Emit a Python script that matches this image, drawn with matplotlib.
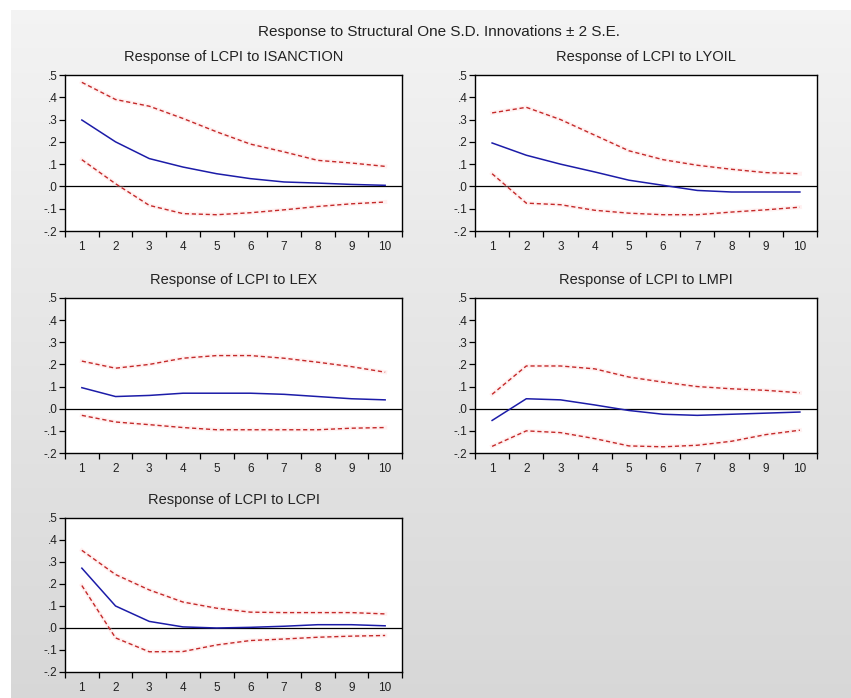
import numpy as np
import matplotlib
matplotlib.use("Agg")
import matplotlib.pyplot as plt

plt.rcParams['font.family'] = ['Liberation Sans', 'DejaVu Sans']

periods = [1, 2, 3, 4, 5, 6, 7, 8, 9, 10]
titles = ["Response of LCPI to ISANCTION", "Response of LCPI to LYOIL",
          "Response of LCPI to LEX", "Response of LCPI to LMPI",
          "Response of LCPI to LCPI"]

# impulse responses (mean, upper band, lower band)
isanction_mid = [0.298, 0.20, 0.125, 0.087, 0.057, 0.035, 0.02, 0.015, 0.009, 0.005]
isanction_hi = [0.467, 0.39, 0.36, 0.305, 0.245, 0.19, 0.155, 0.117, 0.105, 0.09]
isanction_lo = [0.12, 0.012, -0.085, -0.122, -0.127, -0.118, -0.105, -0.09, -0.078, -0.07]

lyoil_mid = [0.195, 0.14, 0.10, 0.065, 0.028, 0.005, -0.018, -0.025, -0.025, -0.025]
lyoil_hi = [0.33, 0.355, 0.30, 0.23, 0.16, 0.12, 0.095, 0.077, 0.062, 0.057]
lyoil_lo = [0.057, -0.075, -0.082, -0.107, -0.12, -0.127, -0.127, -0.115, -0.105, -0.093]

lex_mid = [0.095, 0.055, 0.06, 0.07, 0.07, 0.07, 0.065, 0.055, 0.045, 0.04]
lex_hi = [0.215, 0.183, 0.20, 0.228, 0.24, 0.24, 0.228, 0.21, 0.19, 0.165]
lex_lo = [-0.03, -0.06, -0.072, -0.085, -0.095, -0.095, -0.095, -0.095, -0.088, -0.085]

lmpi_mid = [-0.053, 0.045, 0.04, 0.017, -0.008, -0.025, -0.03, -0.025, -0.02, -0.015]
lmpi_hi = [0.065, 0.193, 0.193, 0.18, 0.143, 0.12, 0.10, 0.09, 0.083, 0.072]
lmpi_lo = [-0.17, -0.10, -0.108, -0.135, -0.168, -0.172, -0.165, -0.147, -0.117, -0.097]

lcpi_mid = [0.272, 0.10, 0.03, 0.005, 0.0, 0.003, 0.008, 0.015, 0.015, 0.01]
lcpi_hi = [0.353, 0.243, 0.173, 0.118, 0.09, 0.072, 0.07, 0.07, 0.07, 0.064]
lcpi_lo = [0.193, -0.045, -0.108, -0.107, -0.077, -0.057, -0.05, -0.042, -0.037, -0.034]

series = [(isanction_mid, isanction_hi, isanction_lo),
          (lyoil_mid, lyoil_hi, lyoil_lo),
          (lex_mid, lex_hi, lex_lo),
          (lmpi_mid, lmpi_hi, lmpi_lo),
          (lcpi_mid, lcpi_hi, lcpi_lo)]

ytick_vals = [-0.2, -0.1, 0.0, 0.1, 0.2, 0.3, 0.4, 0.5]
ytick_labels = ["-.2", "-.1", ".0", ".1", ".2", ".3", ".4", ".5"]

W, H = 851, 698
fig = plt.figure(figsize=(W / 100, H / 100), dpi=100)
fig.patch.set_facecolor("white")

# grey gradient backdrop (white strip top and left)
bg = fig.add_axes([11 / W, 0, 1 - 11 / W, 1 - 10 / H])
shade = np.linspace(0.955, 0.845, 256)
grad = np.dstack([shade, shade, shade]).reshape(256, 1, 3)
bg.imshow(grad, aspect="auto", extent=[0, 1, 0, 1], origin="upper")
bg.axis("off")

# pixel boxes: left, right, top, bottom
boxes = [(65, 402, 75, 231), (475, 817, 75, 231),
         (65, 402, 298, 453), (475, 817, 298, 453),
         (65, 402, 518, 672)]

for (l, r, t, b), title, (mid, hi, lo) in zip(boxes, titles, series):
    ax = fig.add_axes([l / W, 1 - b / H, (r - l) / W, (b - t) / H])
    ax.set_facecolor("white")
    ax.axhline(0, color="black", lw=0.9, zorder=1)
    for band in (hi, lo):
        ax.plot(periods, band, color="#ffc8c8", lw=3.0, alpha=0.25, zorder=2)
        ax.plot(periods, band, color="#c42a2a", lw=1.0, ls=(0, (3, 2)), zorder=3)
    ax.plot(periods, mid, color="#1c1ca8", lw=1.1, zorder=4)
    ax.set_xlim(0.5, 10.5)
    ax.set_ylim(-0.2, 0.5)
    ax.set_yticks(ytick_vals)
    ax.set_yticklabels(ytick_labels)
    ax.set_xticks(np.arange(0.5, 11, 1.0))
    ax.set_xticklabels([])
    ax.set_xticks(periods, minor=True)
    ax.set_xticklabels([str(p) for p in periods], minor=True)
    ax.tick_params(axis="x", which="major", direction="out", length=4, width=0.9)
    ax.tick_params(axis="x", which="minor", length=0, pad=7, labelsize=8.5,
                   labelcolor="#222222")
    ax.tick_params(axis="y", direction="out", length=4, width=0.9, pad=1.5,
                   labelsize=8.5, labelcolor="#222222")
    for s in ax.spines.values():
        s.set_linewidth(1.0)
        s.set_color("black")
    fig.text((l + r) / 2 / W, 1 - (t - 18) / H, title, ha="center", va="center",
             fontsize=10.5, color="#222222")

fig.text(439 / W, 1 - 32 / H, "Response to Structural One S.D. Innovations \u00b1 2 S.E.",
         ha="center", va="center", fontsize=11, color="#222222")

fig.savefig("out.png", dpi=100)
